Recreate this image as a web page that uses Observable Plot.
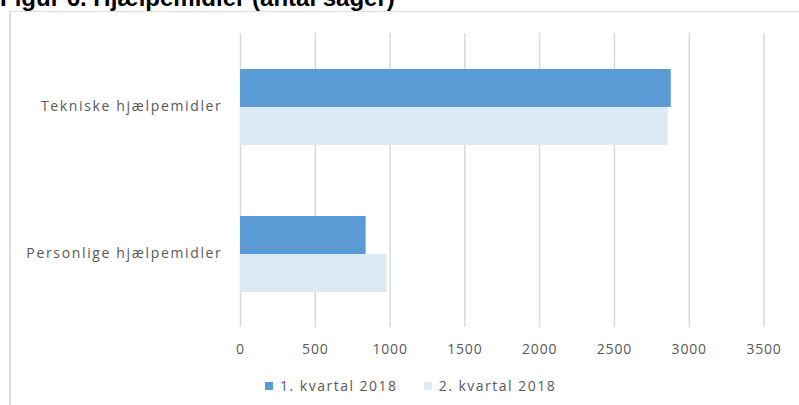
<!DOCTYPE html>
<html>
<head>
<meta charset="utf-8">
<script src="https://cdn.jsdelivr.net/npm/d3@7"></script>
<script src="https://cdn.jsdelivr.net/npm/@observablehq/plot@0.6"></script>
<style>
  html, body { margin: 0; padding: 0; background: #fff; }
  #wrap { position: relative; width: 799px; height: 405px; overflow: hidden; background: #fff; }
  #title { position: absolute; left: 0; top: -14px; font: bold 24px "Liberation Sans", Arial, sans-serif; color: #000; white-space: nowrap; line-height: 24px; }
  #frame { position: absolute; left: 9px; top: 11px; width: 820px; height: 420px; border-left: 2px solid #dedede; border-top: 1.5px solid #dedede; }
  #chart { position: absolute; left: 0; top: 0; }
  #legend { position: absolute; top: 376px; left: 265px; font: 14px "Open Sans", sans-serif; color: #595959; white-space: nowrap; display: flex; align-items: center; letter-spacing: 1.5px; }
  .sw { display: inline-block; width: 8px; height: 8px; margin-right: 7px; }
  .item { display: flex; align-items: center; margin-right: 26px; }
</style>
</head>
<body>
<div id="wrap">
  <div id="title">Figur 6. Hjælpemidler (antal sager)</div>
  <div id="frame"></div>
  <div id="chart"></div>
  <div id="legend"></div>
</div>
<script>
const categories = ["Tekniske hjælpemidler", "Personlige hjælpemidler"];
const series = ["1. kvartal 2018", "2. kvartal 2018"];
const q1 = [2880, 840];
const q2 = [2860, 980];
const xTicks = [0, 500, 1000, 1500, 2000, 2500, 3000, 3500];
const colors = ["#5b9bd5", "#ddeaf6"];

const data = categories.flatMap((c, i) => [
  {category: c, series: series[0], value: q1[i]},
  {category: c, series: series[1], value: q2[i]}
]);

const chart = Plot.plot({
  width: 799,
  height: 370,
  marginLeft: 240,
  marginRight: 35.5,
  marginTop: 33,
  marginBottom: 43,
  style: {fontFamily: "'Open Sans', sans-serif", fontSize: "14px", color: "#595959", background: "transparent"},
  x: {domain: [0, 3500], ticks: xTicks, tickSize: 0, tickPadding: 17, label: null, tickFormat: d => String(d)},
  fy: {domain: categories, padding: 0, label: null, tickSize: 0, tickPadding: 18, axis: "left"},
  y: {domain: series, paddingInner: 0, paddingOuter: 0.885, axis: null},
  color: {domain: series, range: colors},
  marks: [
    Plot.ruleX(xTicks, {stroke: "#d9d9d9", strokeWidth: 1.5}),
    Plot.barX(data, {x: "value", y: "series", fy: "category", fill: "series"})
  ]
});
d3.select(chart).selectAll("text").style("letter-spacing", "0.8px");
d3.select(chart).selectAll("[aria-label='fy-axis tick label'] text, [aria-label='fy-axis'] text").style("letter-spacing", "1.65px");
document.getElementById("chart").appendChild(chart);

const legend = document.getElementById("legend");
series.forEach((s, i) => {
  const item = document.createElement("span");
  item.className = "item";
  const sw = document.createElement("span");
  sw.className = "sw";
  sw.style.background = colors[i];
  item.appendChild(sw);
  item.appendChild(document.createTextNode(s));
  legend.appendChild(item);
});
</script>
</body>
</html>
